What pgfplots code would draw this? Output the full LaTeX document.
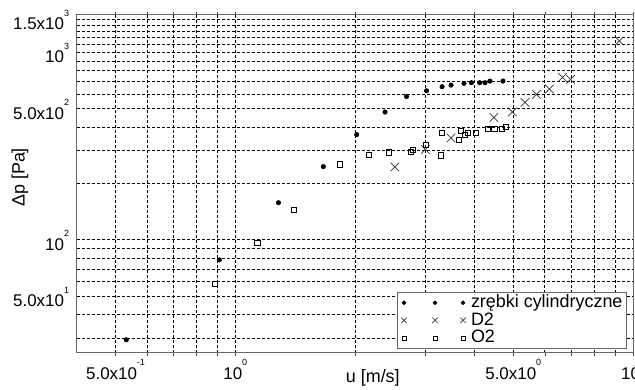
\documentclass[border=0pt]{standalone}
\usepackage{fontspec}
\setmainfont{Liberation Sans}
\usepackage{pgfplots}
\pgfplotsset{compat=1.18}
\newcommand{\sps}[1]{\smash{\raisebox{13.5bp}{\fontsize{9}{9}\selectfont #1}}}
\begin{document}
\begin{tikzpicture}
\begin{axis}[
  xmode=log, ymode=log,
  scale only axis,
  width=556bp, height=337.7bp,
  xmin=0.4, xmax=10, ymin=25, ymax=1580,
  xtick={0.5,1,5,10},
  xticklabels={5.0x10\sps{-1},10\sps{0},5.0x10\sps{0},10\sps{1}},
  minor xtick={0.6,0.7,0.8,0.9,2,3,4,6,7,8,9},
  ytick={50,100,500,1000,1500},
  yticklabels={5.0x10\sps{1},10\sps{2},5.0x10\sps{2},10\sps{3},1.5x10\sps{3}},
  minor ytick={30,40,60,70,80,90,200,300,400,600,700,800,900,1100,1200,1300,1400},
  grid=both,
  major grid style={black, line width=0.6bp, dash pattern=on 3bp off 2bp},
  minor grid style={black, line width=0.6bp, dash pattern=on 3bp off 2bp},
  tick align=outside,
  major tick length=3.5bp, minor tick length=3.5bp,
  ytick style={draw=none},
  minor y tick style={draw=none},
  xtick style={black!70, line width=0.5bp},
  axis line style={black!60, line width=1bp},
  ticklabel style={font=\fontsize{17}{17}\selectfont},
  xticklabel style={anchor=base, yshift=-23bp},
  yticklabel style={anchor=east, xshift=-1bp, yshift=-4.5bp},
  xlabel={u [m/s]},
  ylabel={Δp [Pa]},
  label style={font=\fontsize{18}{18}\selectfont},
  xlabel style={at={(axis description cs:0.532,-0.0868)}, anchor=base},
  ylabel style={at={(axis description cs:-0.1025,0.519)}, anchor=center},
  legend cell align=left,
  legend style={at={(axis description cs:0.989,0.011)}, anchor=south east,
    draw=black!60, line width=0.8bp, fill=white, inner xsep=4bp, inner ysep=3bp,
    font=\fontsize{18}{18}\selectfont, row sep=2bp,
    nodes={inner sep=0pt, text height=12.5bp, text depth=3bp, anchor=west}},
]
\addplot[only marks, mark=*, mark size=2.3bp, mark options={fill=black, draw=black},
  legend image code/.code={\path[draw=none,fill=none] (-3bp,-3bp) rectangle (67bp,3bp); \path plot[mark=*, mark size=1.8bp, mark options={fill=black,draw=black}] coordinates {(0bp,0bp) (31bp,0bp) (59bp,0bp)};}]
coordinates {
(0.532,29.3) (0.912,78.2) (1.284,157.7) (1.665,245.6) (2.02,364) (2.38,480)
(2.696,581) (3.026,623) (3.311,655) (3.487,668) (3.76,683) (3.924,688)
(4.117,688) (4.245,688) (4.366,702) (4.71,702)
};
\addlegendentry{zrębki cylindryczne}
\addplot[only marks, mark=x, mark size=6bp, mark options={draw=black!80, line width=0.7bp},
  legend image code/.code={\path[draw=none,fill=none] (-3bp,-3bp) rectangle (67bp,3bp); \path plot[mark=x, mark size=3.8bp, mark options={draw=black!80, line width=0.6bp}] coordinates {(0bp,0bp) (31bp,0bp) (59bp,0bp)};}]
coordinates {
(2.52,244.5) (3.008,303) (3.487,349.4) (4.47,449) (4.972,480) (5.35,540)
(5.72,596) (6.166,637) (6.647,735) (6.962,717) (9.24,1149)
};
\addlegendentry{D2}
\addplot[only marks, mark=square, mark size=2.6bp, mark options={draw=black, fill=white, line width=0.55bp},
  legend image code/.code={\path[draw=none,fill=none] (-3bp,-3bp) rectangle (67bp,3bp); \path plot[mark=square, mark size=2bp, mark options={draw=black, fill=white, line width=0.5bp}] coordinates {(0bp,0bp) (31bp,0bp) (59bp,0bp)};}]
coordinates {
(0.889,58.2) (1.136,96.3) (1.406,145) (1.834,253) (2.17,283.5) (2.433,293)
(2.768,294) (2.80,302) (3.006,320.6) (3.28,282.4) (3.30,373) (3.64,342.6)
(3.694,381) (3.77,362.6) (3.85,371.6) (4.03,373) (4.32,389) (4.48,389)
(4.68,389) (4.78,400)
};
\addlegendentry{O2}
\end{axis}
\pgfresetboundingbox
\path[use as bounding box] (-77bp,-37.3bp) rectangle (558bp,352.7bp);
\end{tikzpicture}
\end{document}
